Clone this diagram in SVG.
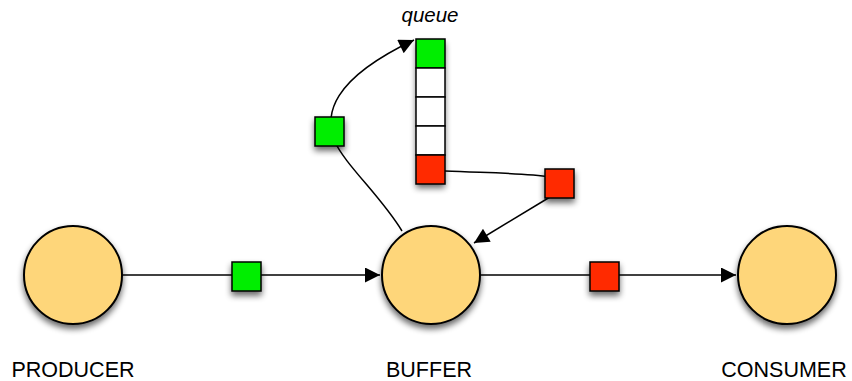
<svg xmlns="http://www.w3.org/2000/svg" width="852" height="381" viewBox="0 0 852 381">
<style>
.node{fill:#FED67A;stroke:#000;stroke-width:2;filter:url(#sh)}
.g{fill:#00EE00;stroke:#000;stroke-width:1.5;filter:url(#sh)}
.r{fill:#FF2A00;stroke:#000;stroke-width:1.5;filter:url(#sh)}
.w{fill:#fff;stroke:#000;stroke-width:1.5}
.c{fill:none;stroke:#000;stroke-width:1.5}
.lbl{font-family:"Liberation Sans",Arial,sans-serif;font-size:21.5px;fill:#000;text-anchor:middle}
</style>
<defs>
<filter id="sh" x="-30%" y="-30%" width="160%" height="170%">
<feGaussianBlur in="SourceAlpha" stdDeviation="3"/>
<feOffset dx="0" dy="4" result="b"/>
<feComponentTransfer><feFuncA type="linear" slope="0.6"/></feComponentTransfer>
<feMerge><feMergeNode/><feMergeNode in="SourceGraphic"/></feMerge>
</filter>
<marker id="ah" viewBox="0 0 10 10" refX="10" refY="5" markerWidth="17" markerHeight="15" markerUnits="userSpaceOnUse" orient="auto">
<path d="M0,0 L10,5 L0,10 z" fill="#000"/>
</marker>
</defs>
<g id="connectors">
<path class="c" d="M122,275 L380,275" marker-end="url(#ah)"/>
<path class="c" d="M480,275 L736,275" marker-end="url(#ah)"/>
<path class="c" d="M402,231 C380,195 345,165 334,140 C325,115 330,80 414,40" marker-end="url(#ah)"/>
<path class="c" d="M445,171 C490,173 525,173 550,177"/>
<path class="c" d="M550,197 L474,243" marker-end="url(#ah)"/>
</g>
<g id="producer">
<circle class="node" cx="73" cy="275" r="49"/>
<text class="lbl" x="73" y="377">PRODUCER</text>
</g>
<g id="buffer">
<circle class="node" cx="431" cy="275" r="49"/>
<text class="lbl" x="429" y="377">BUFFER</text>
</g>
<g id="consumer">
<circle class="node" cx="787" cy="275" r="49"/>
<text class="lbl" x="784" y="377">CONSUMER</text>
</g>
<g id="queue">
<rect x="416" y="39" width="29" height="145" fill="#fff" filter="url(#sh)"/>
<rect class="g" x="416" y="39" width="29" height="29" style="filter:none"/>
<rect class="w" x="416" y="68" width="29" height="29"/>
<rect class="w" x="416" y="97" width="29" height="29"/>
<rect class="w" x="416" y="126" width="29" height="29"/>
<rect class="r" x="416" y="155" width="29" height="29" style="filter:none"/>
<text x="430" y="22" font-family="'Liberation Sans',Arial,sans-serif" font-size="20.5" font-style="italic" text-anchor="middle">queue</text>
</g>
<g id="msg-produced">
<rect class="g" x="232" y="262" width="29" height="29"/>
</g>
<g id="msg-enqueued">
<rect class="g" x="315" y="117" width="29" height="29"/>
</g>
<g id="msg-dequeued">
<rect class="r" x="545" y="169" width="29" height="29"/>
</g>
<g id="msg-consumed">
<rect class="r" x="590" y="262" width="29" height="29"/>
</g>
</svg>
